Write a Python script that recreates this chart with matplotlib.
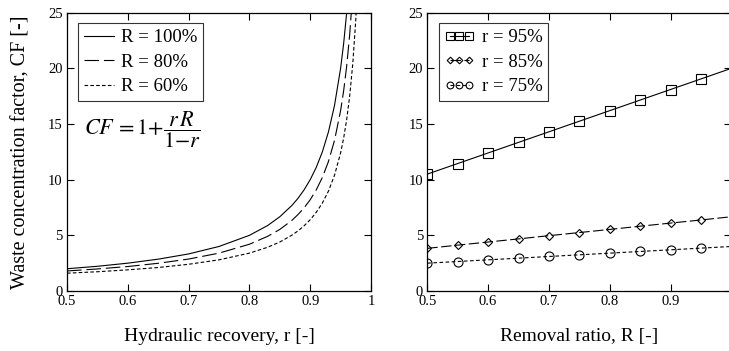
import matplotlib
matplotlib.use("Agg")
import matplotlib.pyplot as plt

plt.rcParams['font.family'] = ['Liberation Serif', 'DejaVu Serif']
plt.rcParams['mathtext.fontset'] = 'stix'
plt.rcParams['lines.scale_dashes'] = False

# Left panel: hydraulic recovery r vs CF
r_vals = [0.50, 0.55, 0.60, 0.65, 0.70, 0.75, 0.80, 0.83, 0.85, 0.87, 0.88, 0.89,
          0.90, 0.91, 0.92, 0.93, 0.94, 0.95, 0.955, 0.96, 0.965, 0.97, 0.975, 0.98]
cf_R100 = [2.00, 2.22, 2.50, 2.86, 3.33, 4.00, 5.00, 5.88, 6.67, 7.69, 8.33, 9.09,
           10.00, 11.11, 12.50, 14.29, 16.67, 20.00, 22.22, 25.00, 28.57, 33.33, 40.0, 50.0]
cf_R80 = [1.80, 1.98, 2.20, 2.49, 2.87, 3.40, 4.20, 4.91, 5.53, 6.35, 6.87, 7.47,
          8.20, 9.09, 10.20, 11.63, 13.53, 16.20, 17.98, 20.20, 23.06, 26.87, 32.20, 40.2]
cf_R60 = [1.60, 1.73, 1.90, 2.11, 2.40, 2.80, 3.40, 3.93, 4.40, 5.02, 5.40, 5.86,
          6.40, 7.07, 7.90, 8.97, 10.40, 12.40, 13.73, 15.40, 17.54, 20.40, 24.40, 30.4]
left_labels = ["R = 100%", "R = 80%", "R = 60%"]
left_xticks = [0.5, 0.6, 0.7, 0.8, 0.9, 1.0]
left_xticklabels = ["0.5", "0.6", "0.7", "0.8", "0.9", "1"]

# Right panel: removal ratio R vs CF
R_marks = [0.50, 0.55, 0.60, 0.65, 0.70, 0.75, 0.80, 0.85, 0.90, 0.95, 1.00]
cf_r95 = [10.50, 11.45, 12.40, 13.35, 14.30, 15.25, 16.20, 17.15, 18.10, 19.05, 20.00]
cf_r85 = [3.83, 4.12, 4.40, 4.68, 4.97, 5.25, 5.53, 5.82, 6.10, 6.38, 6.67]
cf_r75 = [2.50, 2.65, 2.80, 2.95, 3.10, 3.25, 3.40, 3.55, 3.70, 3.85, 4.00]
right_labels = ["r = 95%", "r = 85%", "r = 75%"]
right_xticks = [0.5, 0.6, 0.7, 0.8, 0.9, 1.0]
right_xticklabels = ["0.5", "0.6", "0.7", "0.8", "0.9", ""]
yticks = [0, 5, 10, 15, 20, 25]

W, H = 729, 351
fig = plt.figure(figsize=(7.29, 3.51), dpi=100)
ax1 = fig.add_axes([67/W, 1-291/H, 304/W, (291-12.7)/H])
ax2 = fig.add_axes([427.3/W, 1-291/H, 304/W, (291-12.7)/H])

lw = 0.8
ax1.plot(r_vals, cf_R100, color='black', lw=lw, label=left_labels[0])
ax1.plot(r_vals, cf_R80, color='black', lw=lw, dashes=(10.5, 3.5), label=left_labels[1])
ax1.plot(r_vals, cf_R60, color='black', lw=lw, dashes=(2.6, 1.6), label=left_labels[2])
ax1.set_xlim(0.5, 1.0)
ax1.set_ylim(0, 25)
ax1.set_xticks(left_xticks)
ax1.set_xticklabels(left_xticklabels)
ax1.set_yticks(yticks)
ax1.set_xlabel("Hydraulic recovery, r [-]", fontsize=14, labelpad=14)
ax1.set_ylabel("Waste concentration factor, CF [-]", fontsize=14.5, labelpad=13)
ax1.text(0.528, 14.5, r"$CF\,{=}1{+}\dfrac{r\,R}{1{-}r}$", fontsize=16,
         va='center', ha='left')
leg1 = ax1.legend(loc='upper left', bbox_to_anchor=(0.025, 0.975), fontsize=13.5,
                  frameon=True, fancybox=False, edgecolor='black', handlelength=1.6,
                  handletextpad=0.4, borderpad=0.3, labelspacing=0.4, borderaxespad=0.2)
leg1.get_frame().set_linewidth(0.8)

n_marks = len(R_marks) - 1
ms_kw = dict(color='black', lw=lw, markerfacecolor='none', markeredgecolor='black',
             markeredgewidth=0.8, markevery=slice(0, n_marks))
ax2.plot(R_marks, cf_r95, marker='s', markersize=7, label=right_labels[0], **ms_kw)
ax2.plot(R_marks, cf_r85, marker='D', markersize=4.5, dashes=(7.5, 2.5), label=right_labels[1], **ms_kw)
ax2.plot(R_marks, cf_r75, marker='o', markersize=6.5, dashes=(2.6, 1.8), label=right_labels[2], **ms_kw)
ax2.set_xlim(0.5, 1.0)
ax2.set_ylim(0, 25)
ax2.set_xticks(right_xticks)
ax2.set_xticklabels(right_xticklabels)
ax2.set_yticks(yticks)
ax2.set_xlabel("Removal ratio, R [-]", fontsize=14, labelpad=14)
leg2 = ax2.legend(loc='upper left', bbox_to_anchor=(0.025, 0.975), fontsize=13.5,
                  frameon=True, fancybox=False, edgecolor='black', handlelength=1.6,
                  numpoints=3, markerscale=0.75, handletextpad=0.4, borderpad=0.3,
                  labelspacing=0.4, borderaxespad=0.2)
leg2.get_frame().set_linewidth(0.8)

for ax in (ax1, ax2):
    ax.tick_params(direction='in', length=5, width=0.8, top=True, right=True,
                   labelsize=10.5, pad=3)
    for s in ax.spines.values():
        s.set_linewidth(0.9)

fig.savefig("out.png", dpi=100)
